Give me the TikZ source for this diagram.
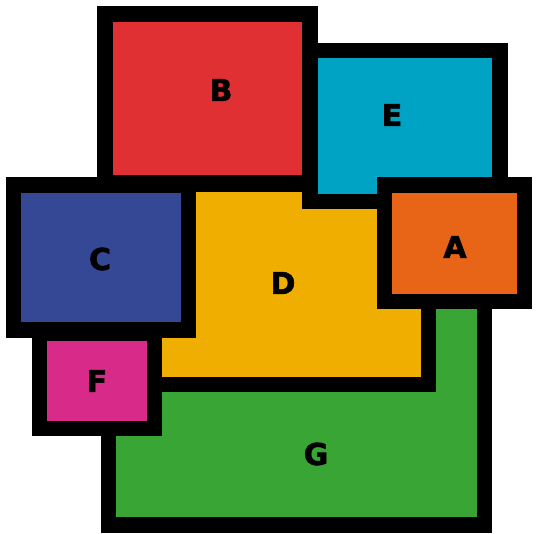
\documentclass[tikz,border=0pt]{standalone}
\usepackage{fontspec}
\setmainfont{DejaVu Sans}
\newfontfamily\letterfont[FakeBold=2]{DejaVu Sans Bold}
\definecolor{mapred}{RGB}{224,48,51}
\definecolor{mapcyan}{RGB}{0,163,196}
\definecolor{maporange}{RGB}{232,101,23}
\definecolor{mapblue}{RGB}{52,72,150}
\definecolor{mapyellow}{RGB}{239,174,0}
\definecolor{mappink}{RGB}{216,42,137}
\definecolor{mapgreen}{RGB}{56,165,52}

\begin{document}
\begin{tikzpicture}[x=1pt, y=-1pt,
        region/.style={draw=black, line width=15.5pt, line join=miter},
        letter/.style={font=\fontsize{30}{30}\letterfont}]
    \useasboundingbox (0,0) rectangle (541,534);
    % regions, bottom layer first
    \filldraw[region, fill=mapgreen] (108.5,250) rectangle (484.5,525);
    \filldraw[region, fill=mapyellow] (140,184) rectangle (428.5,384.5);
    \filldraw[region, fill=mapred] (105,14) rectangle (310,183);
    \filldraw[region, fill=mapcyan] (310,50.5) rectangle (500,201.5);
    \filldraw[region, fill=maporange] (384.5,185) rectangle (524.5,301.5);
    \filldraw[region, fill=mapblue] (13.5,185) rectangle (188.5,330);
    \filldraw[region, fill=mappink] (39.5,333) rectangle (154.5,428.5);
    % labels
    \node[letter] (labA) at (455,247) {A};
    \node[letter] (labB) at (221,90) {B};
    \node[letter] (labC) at (100,259) {C};
    \node[letter] (labD) at (283,283) {D};
    \node[letter] (labE) at (392,115) {E};
    \node[letter] (labF) at (97,381) {F};
    \node[letter] (labG) at (316,454) {G};
\end{tikzpicture}
\end{document}
